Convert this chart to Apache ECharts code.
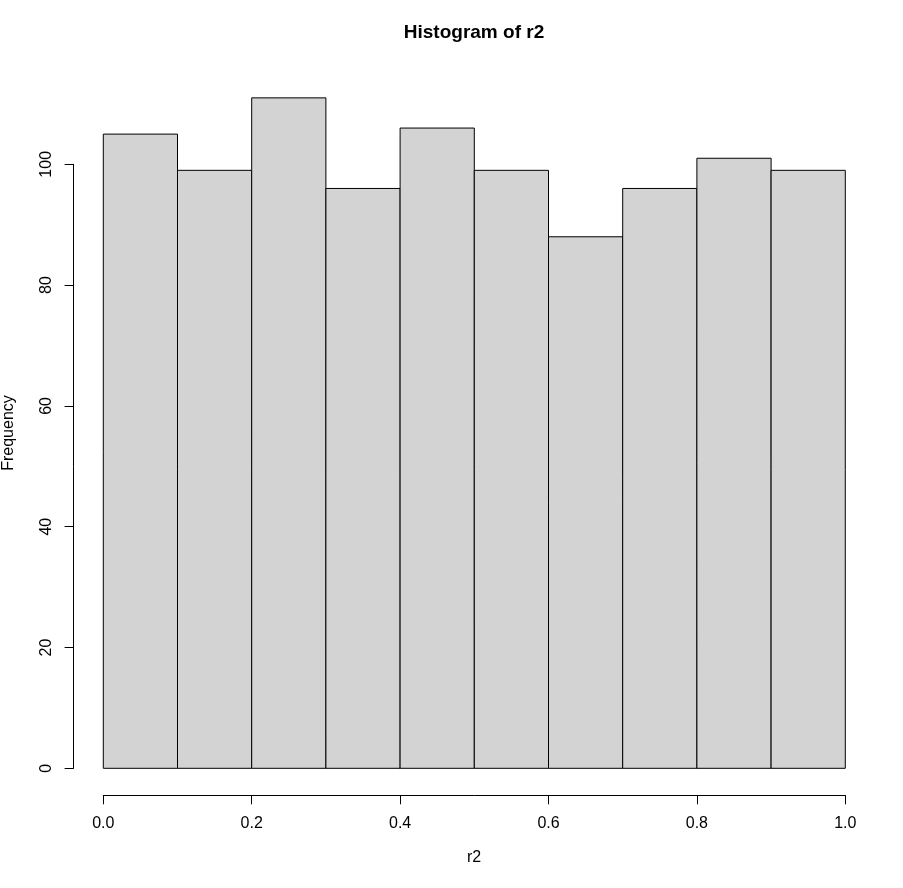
<!DOCTYPE html>
<html>
<head>
<meta charset="utf-8">
<script src="https://cdn.jsdelivr.net/npm/echarts@6/dist/echarts.min.js"></script>
<style>
html,body{margin:0;padding:0;background:#fff;}
#chart{width:903px;height:888px;}
</style>
</head>
<body>
<div id="chart"></div>
<script>
const breaks = [0.0, 0.1, 0.2, 0.3, 0.4, 0.5, 0.6, 0.7, 0.8, 0.9, 1.0];
const counts = [105, 99, 111, 96, 106, 99, 88, 96, 101, 99];
const xTicks = [0.0, 0.2, 0.4, 0.6, 0.8, 1.0];
const yTicks = [0, 20, 40, 60, 80, 100];
const titleText = 'Histogram of r2';
const xLabel = 'r2';
const yLabel = 'Frequency';

const FONT = '"Liberation Sans", Arial, sans-serif';
const bins = counts.map((c, i) => [breaks[i], breaks[i + 1], c]);

const chart = echarts.init(document.getElementById('chart'), null, {renderer: 'canvas'});
chart.setOption({
  animation: false,
  backgroundColor: '#ffffff',
  grid: {left: 103.3, right: 57.7, top: 164.3, bottom: 119.7, containLabel: false},
  xAxis: {
    type: 'value', min: xTicks[0], max: xTicks[xTicks.length - 1], interval: 0.2,
    offset: 27,
    axisLine: {show: true, onZero: false, lineStyle: {color: '#000', width: 1}},
    axisTick: {show: true, length: 9, inside: false, lineStyle: {color: '#000', width: 1}},
    axisLabel: {show: true, margin: 20, color: '#000', fontSize: 16, fontFamily: FONT,
      formatter: v => v.toFixed(1)},
    splitLine: {show: false}
  },
  yAxis: {
    type: 'value', min: yTicks[0], max: yTicks[yTicks.length - 1], interval: 20,
    offset: 29.7,
    axisLine: {show: true, onZero: false, lineStyle: {color: '#000', width: 1}},
    axisTick: {show: true, length: 9, inside: false, lineStyle: {color: '#000', width: 1}},
    axisLabel: {show: true, margin: 19, rotate: 90, color: '#000', fontSize: 16, fontFamily: FONT},
    splitLine: {show: false}
  },
  series: [{
    type: 'custom',
    clip: false,
    data: bins,
    encode: {x: [0, 1], y: 2},
    renderItem: function (params, api) {
      const p0 = api.coord([api.value(0), api.value(2)]);
      const p1 = api.coord([api.value(1), 0]);
      return {
        type: 'rect',
        shape: {x: p0[0], y: p0[1], width: p1[0] - p0[0], height: p1[1] - p0[1]},
        style: {fill: '#D3D3D3', stroke: '#000', lineWidth: 1}
      };
    }
  }],
  graphic: [
    {type: 'text', x: 474, y: 33, style: {text: titleText, font: 'bold 19px ' + FONT, fill: '#000',
      textAlign: 'center', textVerticalAlign: 'middle', align: 'center', verticalAlign: 'middle'}},
    {type: 'text', x: 474, y: 858, style: {text: xLabel, font: '16px ' + FONT, fill: '#000',
      textAlign: 'center', textVerticalAlign: 'middle', align: 'center', verticalAlign: 'middle'}},
    {type: 'text', x: 9, y: 433, rotation: Math.PI / 2, style: {text: yLabel, font: '16px ' + FONT, fill: '#000',
      textAlign: 'center', textVerticalAlign: 'middle', align: 'center', verticalAlign: 'middle'}}
  ]
});
</script>
</body>
</html>
